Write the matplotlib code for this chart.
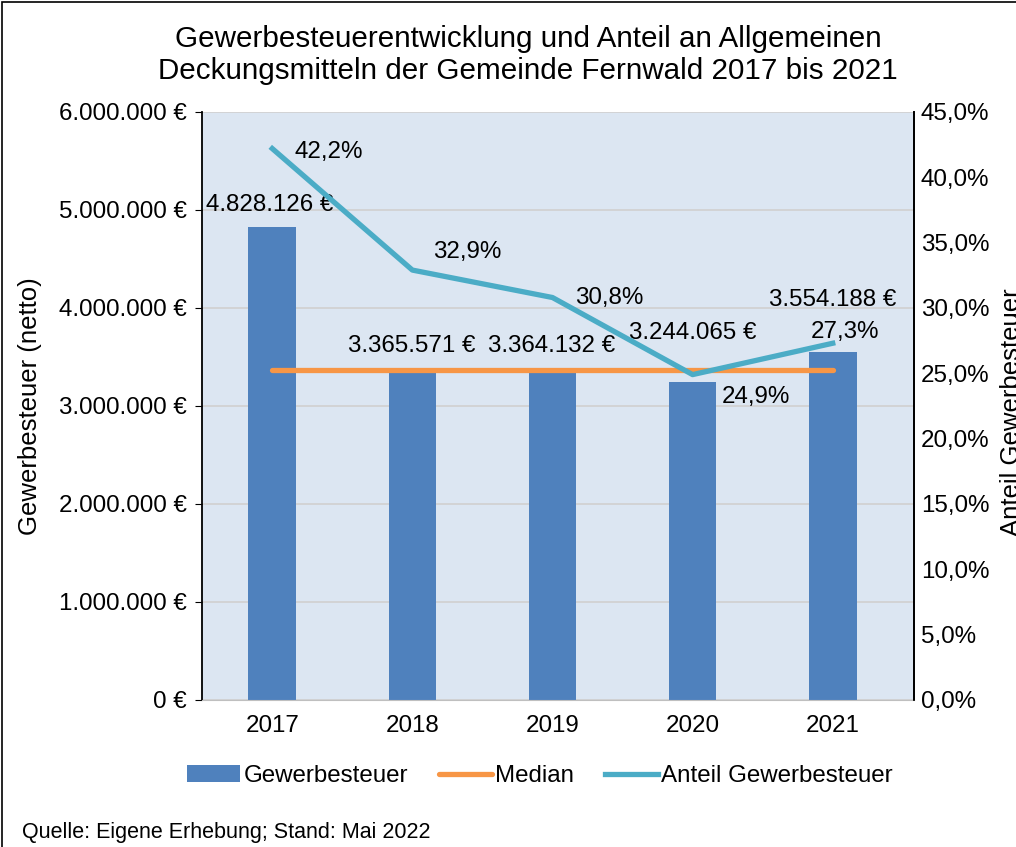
import matplotlib
matplotlib.use("Agg")
import matplotlib.pyplot as plt
from matplotlib.patches import Rectangle
from matplotlib.ticker import FuncFormatter

plt.rcParams["font.family"] = ["Liberation Sans", "DejaVu Sans"]

years = ["2017", "2018", "2019", "2020", "2021"]
steuer = [4828126, 3365571, 3364132, 3244065, 3554188]
anteil = [42.2, 32.9, 30.8, 24.9, 27.3]
median = sorted(steuer)[len(steuer) // 2]

# label offsets in pixels (hand-placed, like the Excel original)
bar_off = [(-3, 22), (-1, 24), (-1, 24), (0, 49), (0, 52)]
pct_off = [(57, -3), (55, 18), (57, 0), (63, -22), (12, 11)]

C_BAR, C_MED, C_LINE = "#4F81BD", "#F79646", "#4BACC6"
FS = 17.4


def euro(v, _=None):
    return f"{int(round(v)):,}".replace(",", ".") + " €"


def pct(v, _=None):
    return f"{v:.1f}".replace(".", ",") + "%"


fig = plt.figure(figsize=(10.16, 8.47), dpi=100)
ax = fig.add_axes([0.199, 0.1736, 0.7006, 0.6942])
ax.set_facecolor("#DCE6F2")
x = list(range(len(years)))

ax.bar(x, steuer, width=0.34, color=C_BAR, zorder=2, label="Gewerbesteuer")
ax.plot([x[0], x[-1]], [median, median], color=C_MED, lw=3.8, solid_capstyle="round",
        zorder=3, label="Median")
ax.set_xlim(-0.5, 4.58)
ax.set_ylim(0, 6000000)
ax.set_yticks(range(0, 6000001, 1000000))
ax.yaxis.set_major_formatter(FuncFormatter(euro))
ax.set_xticks(x)
ax.set_xticklabels(years)
ax.tick_params(axis="y", labelsize=FS, length=5, direction="out", pad=6)
ax.tick_params(axis="x", labelsize=FS, length=0, pad=11)
ax.grid(axis="y", color="#D0D0D0", lw=1.2, zorder=1)
ax.set_axisbelow(True)
ax.spines["top"].set_visible(False)
ax.spines["bottom"].set_color("#BFBFBF")
ax.spines["left"].set_linewidth(1.3)
ax.spines["right"].set_linewidth(1.3)
ax.set_ylabel("Gewerbesteuer (netto)", fontsize=18.5, labelpad=12)

for i, v in enumerate(steuer):
    ax.annotate(euro(v), (x[i], v), xytext=bar_off[i], textcoords="offset pixels",
                ha="center", va="center", fontsize=FS, zorder=5)

ax2 = ax.twinx()
ax2.plot(x, anteil, color=C_LINE, lw=3.8, zorder=4, label="Anteil Gewerbesteuer")
ax2.set_ylim(0, 45)
ax2.set_yticks(range(0, 46, 5))
ax2.yaxis.set_major_formatter(FuncFormatter(pct))
ax2.tick_params(axis="y", labelsize=FS, length=0, pad=5)
for s in ["top", "left", "bottom"]:
    ax2.spines[s].set_visible(False)
ax2.spines["right"].set_linewidth(1.3)
for i, v in enumerate(anteil):
    ax2.annotate(pct(v), (x[i], v), xytext=pct_off[i], textcoords="offset pixels",
                 ha="center", va="center", fontsize=FS, zorder=5)

fig.text(1012 / 1016, 1 - 412 / 847, "Anteil Gewerbesteuer", rotation=90,
         ha="center", va="center", fontsize=18.5)

fig.text(0.52, 1 - 55 / 847,
         "Gewerbesteuerentwicklung und Anteil an Allgemeinen\n"
         "Deckungsmitteln der Gemeinde Fernwald 2017 bis 2021",
         ha="center", va="center", fontsize=21.3, linespacing=1.15)

h1, l1 = ax.get_legend_handles_labels()
h2, l2 = ax2.get_legend_handles_labels()
fig.legend([h1[1], h1[0], h2[0]], [l1[1], l1[0], l2[0]], loc="center",
           bbox_to_anchor=(540 / 1016, 1 - 776 / 847), ncol=3, frameon=False,
           fontsize=FS, handlelength=2.2, handletextpad=0.15, columnspacing=1.25)

fig.text(22 / 1016, 1 - 832 / 847, "Quelle: Eigene Erhebung; Stand: Mai 2022",
         ha="left", va="center", fontsize=15.5)

fig.patches.append(Rectangle((2 / 1016, -0.05), 1.2, 1 - 2 / 847 + 0.05,
                             transform=fig.transFigure, fill=False, ec="black", lw=1.2))

fig.savefig("out.png", dpi=100)
